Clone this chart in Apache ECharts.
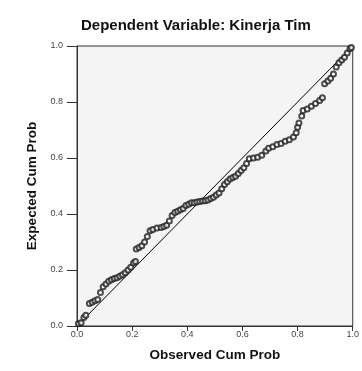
<!DOCTYPE html>
<html>
<head>
<meta charset="utf-8">
<script src="https://cdn.jsdelivr.net/npm/echarts@6/dist/echarts.min.js"></script>
<style>
  html, body { margin: 0; padding: 0; background: #fff; }
  #chart { width: 362px; height: 371px; }
</style>
</head>
<body>
<div id="chart"></div>
<script>
// observed vs expected cumulative probabilities
const observed = [
  0.005, 0.015, 0.025, 0.032, 0.045, 0.055, 0.065, 0.075, 0.085, 0.095,
  0.105, 0.115, 0.125, 0.135, 0.145, 0.155, 0.165, 0.175, 0.185, 0.195,
  0.205, 0.212, 0.215, 0.225, 0.235, 0.245, 0.255, 0.265, 0.275, 0.29,
  0.305, 0.315, 0.325, 0.335, 0.345, 0.355, 0.365, 0.375, 0.385, 0.395,
  0.405, 0.415, 0.425, 0.435, 0.445, 0.455, 0.465, 0.475, 0.485, 0.495,
  0.505, 0.515, 0.525, 0.535, 0.545, 0.555, 0.565, 0.575, 0.585, 0.595,
  0.605, 0.615, 0.625, 0.64, 0.655, 0.67, 0.685, 0.695, 0.71, 0.725,
  0.74, 0.755, 0.77, 0.785, 0.795, 0.8, 0.805, 0.815, 0.82, 0.835,
  0.85, 0.865, 0.88, 0.89, 0.898, 0.91, 0.92, 0.93, 0.94, 0.95,
  0.96, 0.97, 0.98, 0.99, 0.995
]
const expected = [
  0.008, 0.012, 0.03, 0.038, 0.08, 0.085, 0.09, 0.095, 0.12, 0.14,
  0.15, 0.16, 0.165, 0.17, 0.172, 0.178, 0.183, 0.19, 0.2, 0.21,
  0.225, 0.23, 0.275, 0.28, 0.287, 0.3, 0.32, 0.34, 0.345, 0.35,
  0.352, 0.355, 0.36, 0.375, 0.395, 0.405, 0.41, 0.415, 0.42, 0.43,
  0.435, 0.44, 0.44, 0.443, 0.445, 0.446, 0.447, 0.45, 0.455, 0.46,
  0.468, 0.475, 0.49, 0.505, 0.515, 0.525, 0.53, 0.535, 0.545, 0.555,
  0.565, 0.58, 0.597, 0.6, 0.603, 0.61, 0.625, 0.635, 0.64, 0.648,
  0.652, 0.66, 0.665, 0.675, 0.69, 0.71, 0.725, 0.75, 0.77, 0.775,
  0.785, 0.795, 0.805, 0.815, 0.865, 0.875, 0.885, 0.9, 0.925, 0.94,
  0.95, 0.96, 0.975, 0.99, 0.995
]
const diagonal = [[0, 0], [1, 1]]

const chart = echarts.init(document.getElementById('chart'))

const axisCommon = {
  type: 'value',
  min: 0,
  max: 1,
  interval: 0.2,
  nameLocation: 'middle',
  nameTextStyle: { fontFamily: 'Liberation Sans', fontWeight: 'bold', fontSize: 13.5, color: '#111' },
  axisLine: { show: true, lineStyle: { color: '#333', width: 1 } },
  axisLabel: {
    fontFamily: 'Liberation Sans', fontSize: 9, color: '#444',
    formatter: v => v.toFixed(1)
  },
  splitLine: { show: false }
}

chart.setOption({
  animation: false,
  title: {
    text: 'Dependent Variable: Kinerja Tim',
    left: 76,
    top: 13,
    textStyle: { fontFamily: 'Liberation Sans', fontWeight: 'bold', fontSize: 15, color: '#111' }
  },
  grid: {
    left: 77, right: 8, top: 46, bottom: 45,
    show: true,
    backgroundColor: '#f4f4f4',
    borderColor: '#333',
    borderWidth: 1
  },
  xAxis: Object.assign({}, axisCommon, {
    name: 'Observed Cum Prob',
    nameGap: 22,
    axisTick: { show: true, length: 5, lineStyle: { color: '#333' } },
    axisLabel: Object.assign({}, axisCommon.axisLabel, { margin: 4 })
  }),
  yAxis: Object.assign({}, axisCommon, {
    name: 'Expected Cum Prob',
    nameGap: 33,
    axisTick: { show: true, length: 10, lineStyle: { color: '#333' } },
    axisLabel: Object.assign({}, axisCommon.axisLabel, { margin: 14 })
  }),
  series: [
    {
      type: 'line',
      data: diagonal,
      symbol: 'none',
      lineStyle: { color: '#000', width: 1 },
      silent: true,
      z: 1
    },
    {
      type: 'scatter',
      data: observed.map((x, i) => [x, expected[i]]),
      symbol: 'emptyCircle',
      symbolSize: 5,
      itemStyle: { color: '#222', borderColor: '#222', borderWidth: 0.8 },
      z: 2
    }
  ]
})
</script>
</body>
</html>
